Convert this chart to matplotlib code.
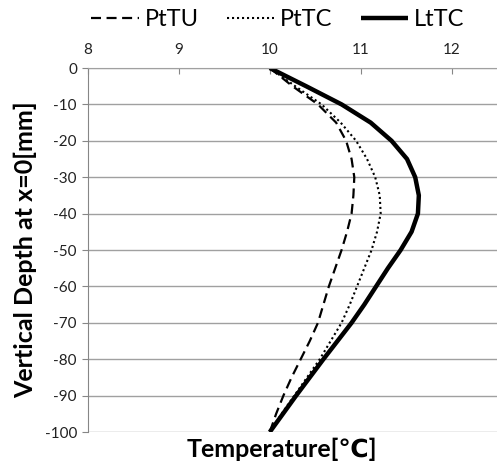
import numpy as np
import matplotlib.pyplot as plt

plt.rcParams['font.family'] = ['Lato', 'DejaVu Sans']
plt.rcParams['axes.unicode_minus'] = False

# depth below surface [mm]
depth = [0, -5, -10, -15, -20, -25, -30, -35, -40, -45, -50,
         -55, -60, -65, -70, -75, -80, -85, -90, -95, -100]

# temperatures [C]
ptu = [10.00, 10.25, 10.53, 10.73, 10.84, 10.90, 10.93, 10.92, 10.90, 10.85, 10.79,
       10.72, 10.65, 10.59, 10.53, 10.44, 10.34, 10.24, 10.15, 10.07, 10.00]
ptc = [10.00, 10.28, 10.57, 10.78, 10.95, 11.07, 11.16, 11.21, 11.22, 11.18, 11.12,
       11.04, 10.96, 10.88, 10.79, 10.67, 10.55, 10.41, 10.27, 10.13, 10.00]
ltc = [10.00, 10.40, 10.79, 11.11, 11.34, 11.51, 11.60, 11.64, 11.63, 11.56, 11.44,
       11.30, 11.17, 11.04, 10.90, 10.745, 10.59, 10.44, 10.29, 10.145, 10.00]

x_ticks = [8, 9, 10, 11, 12]
y_ticks = list(range(0, -101, -10))

fig = plt.figure(figsize=(4.97, 4.66), dpi=100)
ax = fig.add_axes([88 / 497, 1 - 432 / 466, 1 - 88 / 497, 364 / 466])

ax.plot(ptu, depth, color='black', lw=1.6, linestyle=(0, (4.5, 2.5)), label='PtTU')
ax.plot(ptc, depth, color='black', lw=1.5, linestyle=(0, (1.0, 1.4)), label='PtTC')
ax.plot(ltc, depth, color='black', lw=3.2, label='LtTC',
        solid_capstyle='butt', solid_joinstyle='round')

ax.set_xlim(8, 12.5)
ax.set_ylim(-100, 0)
ax.set_xticks(x_ticks)
ax.set_yticks(y_ticks)
ax.xaxis.tick_top()
ax.tick_params(axis='x', direction='in', length=4, color='#868686', labelsize=11, pad=8)
ax.tick_params(axis='y', direction='out', length=4, color='#868686', labelsize=11, pad=4)
for lab in ax.get_xticklabels() + ax.get_yticklabels():
    lab.set_color('#222222')

ax.grid(axis='y', color='#a0a0a0', lw=1.0)
ax.set_axisbelow(True)
for s in ['right', 'bottom']:
    ax.spines[s].set_visible(False)
ax.spines['left'].set_color('#868686')
ax.spines['top'].set_color('#a0a0a0')

ax.set_ylabel('Vertical Depth at x=0[mm]', fontsize=18, fontweight='bold', labelpad=5)
fig.text(282 / 497, 1 - 449 / 466, 'Temperature[\u2103]', fontsize=18,
         fontweight='bold', ha='center', va='center')

fig.legend(loc='center', bbox_to_anchor=(278 / 497, 1 - 20 / 466), ncol=3,
           frameon=False, fontsize=17, handlelength=2.0, handletextpad=0.25,
           columnspacing=1.2)

fig.savefig('out.png', dpi=100)
